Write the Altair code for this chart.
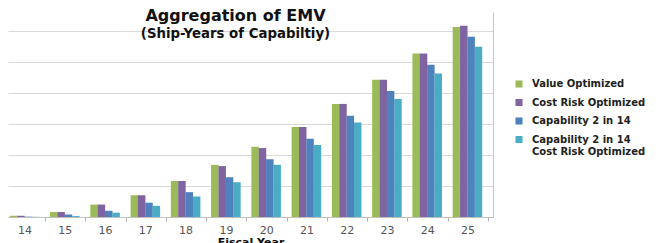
import altair as alt
import pandas as pd

years = [14, 15, 16, 17, 18, 19, 20, 21, 22, 23, 24, 25]
series = ["Value Optimized", "Cost Risk Optimized", "Capability 2 in 14",
          "Capability 2 in 14|Cost Risk Optimized"]
colors = ["#9bbb59", "#8064a2", "#4f81bd", "#4bacc6"]

value_opt = [2, 8, 20, 35, 58, 84, 113, 145, 182, 221, 263, 306]
cost_risk = [2, 8, 20, 35, 58, 82, 111, 145, 182, 221, 263, 308]
cap2 = [0.6, 4, 10, 23, 40, 64, 93, 126, 163, 203, 245, 290]
cap2_cost = [0.3, 1.5, 7, 18, 33, 56, 84, 116, 152, 190, 231, 274]

rows = []
for idx, (name, vals) in enumerate(zip(series, [value_opt, cost_risk, cap2, cap2_cost])):
    for y, v in zip(years, vals):
        rows.append({"year": y, "series": name, "idx": idx, "value": v})
df = pd.DataFrame(rows)

xscale = alt.Scale(domain=[13.713, 25.51], nice=False, zero=False)

bars = alt.Chart(df).transform_calculate(
    xpos="datum.year + (datum.idx - 1.5) * 0.1825"
).mark_bar(width=7.5).encode(
    x=alt.X("xpos:Q", scale=xscale,
            axis=alt.Axis(values=years, format="d", title="Fiscal Year",
                          grid=False, domainColor="#c0c0c0", tickColor="#b0b0b0",
                          tickSize=4, tickOffset=20.55, labelOffset=-20.55,
                          labelFont="DejaVu Sans", labelFontSize=11, labelColor="#555555",
                          labelPadding=3, titleFont="DejaVu Sans", titleFontSize=11,
                          titleFontWeight="bold", titleColor="#111111", titlePadding=1)),
    y=alt.Y("value:Q", scale=alt.Scale(domain=[0, 330], nice=False),
            axis=alt.Axis(orient="right", values=[0, 50, 100, 150, 200, 250, 300],
                          labels=False, ticks=False, title=None, grid=True,
                          gridColor="#d9d9d9", domainColor="#b8c7dc")),
    color=alt.Color("series:N", scale=alt.Scale(domain=series, range=colors),
                    sort=series,
                    legend=alt.Legend(title=None, orient="none", legendX=506, legendY=67,
                                      symbolType="square", symbolSize=50,
                                      labelFont="DejaVu Sans", labelFontSize=10,
                                      labelFontWeight="bold", labelColor="#222222",
                                      labelOffset=8, labelLimit=200,
                                      rowPadding=8.5, symbolStrokeWidth=0,
                                      labelExpr="split(datum.label, '|')")),
)

chart = bars.properties(
    width=485, height=205,
    autosize="none",
    padding={"left": 0, "top": 4, "right": 164, "bottom": 30},
    title=alt.TitleParams(text="Aggregation of EMV", subtitle="(Ship-Years of Capabiltiy)",
                          anchor="middle", dx=-15, offset=-28, frame="group",
                          font="DejaVu Sans", fontSize=16, fontWeight="bold", color="#111111",
                          subtitleFont="DejaVu Sans", subtitleFontSize=13.3,
                          subtitleFontWeight="bold", subtitleColor="#111111", subtitlePadding=3),
).configure_view(stroke=None)

chart.save("out.html", embed_options={"renderer": "svg", "actions": False})
